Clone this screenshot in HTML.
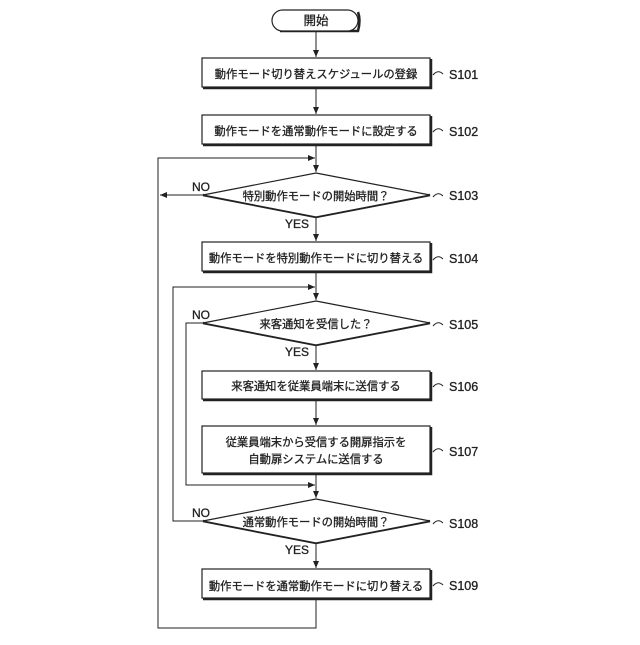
<!DOCTYPE html>
<html><head><meta charset="utf-8"><style>
body{margin:0;background:#fff}
svg text{font-family:"Liberation Sans","Noto Sans CJK JP",sans-serif;fill:#222}
</style></head><body>
<svg width="640" height="640" viewBox="0 0 640 640" xmlns="http://www.w3.org/2000/svg">
<defs><marker id="a" markerWidth="8" markerHeight="8" refX="7" refY="4" orient="auto" markerUnits="userSpaceOnUse"><path d="M0,1 L7,4 L0,7z" fill="#222"/></marker></defs>
<g fill="none" stroke="#222" stroke-width="1.2">
<g stroke-width="2.5">
<path d="M358,12 Q361,20 358,31 L280,31"/>
<path d="M431,59 V88 H203"/>
<path d="M431,116 V145 H203"/>
<path d="M431,243 V272 H203"/>
<path d="M431,372 V400 H203"/>
<path d="M431,427 V474 H203"/>
<path d="M431,570 V599 H203"/>
<path d="M430,195 L316,217 L203,195"/>
<path d="M430,323 L316,345 L203,323"/>
<path d="M430,521 L316,543 L203,521"/>
</g>
<rect x="272" y="10" width="86" height="21" rx="10.5" fill="#fff"/>
<rect x="202" y="58" width="228" height="29" fill="#fff"/>
<rect x="202" y="115" width="228" height="29" fill="#fff"/>
<rect x="202" y="242" width="228" height="29" fill="#fff"/>
<rect x="202" y="371" width="228" height="28" fill="#fff"/>
<rect x="202" y="426" width="228" height="47" fill="#fff"/>
<rect x="202" y="569" width="228" height="29" fill="#fff"/>
<path d="M316,173 L430,195 L316,217 L203,195Z" fill="#fff"/>
<path d="M316,301 L430,323 L316,345 L203,323Z" fill="#fff"/>
<path d="M316,499 L430,521 L316,543 L203,521Z" fill="#fff"/>
<g stroke-width="1">
<line x1="316" y1="31" x2="316" y2="57" marker-end="url(#a)"/>
<line x1="316" y1="88" x2="316" y2="114" marker-end="url(#a)"/>
<line x1="316" y1="145" x2="316" y2="172" marker-end="url(#a)"/>
<line x1="316" y1="217" x2="316" y2="241" marker-end="url(#a)"/>
<line x1="316" y1="272" x2="316" y2="300" marker-end="url(#a)"/>
<line x1="316" y1="345" x2="316" y2="370" marker-end="url(#a)"/>
<line x1="316" y1="400" x2="316" y2="425" marker-end="url(#a)"/>
<line x1="316" y1="474" x2="316" y2="498" marker-end="url(#a)"/>
<line x1="316" y1="543" x2="316" y2="568" marker-end="url(#a)"/>
<path d="M316,599 V628 H158 V158 H315" marker-end="url(#a)"/>
<line x1="203" y1="195" x2="160" y2="195" marker-end="url(#a)"/>
<path d="M203,521 H173 V287 H315" marker-end="url(#a)"/>
<path d="M203,323 H186 V485 H315" marker-end="url(#a)"/>
</g>
<g stroke-width="1">
<path d="M433,75 q5,-6 10,-1"/><path d="M433,132 q5,-6 10,-1"/><path d="M433,197 q5,-6 10,-1"/>
<path d="M433,260 q5,-6 10,-1"/><path d="M433,326 q5,-6 10,-1"/><path d="M433,387 q5,-6 10,-1"/>
<path d="M433,452 q5,-6 10,-1"/><path d="M433,524 q5,-6 10,-1"/><path d="M433,586 q5,-6 10,-1"/>
</g>
</g>
<g font-size="11.3" text-anchor="middle" stroke="#222" stroke-width="0.3">
<text x="316" y="25" font-size="12.5">開始</text>
<text x="316" y="78">動作モード切り替えスケジュールの登録</text>
<text x="316" y="135">動作モードを通常動作モードに設定する</text>
<text x="316" y="200">特別動作モードの開始時間？</text>
<text x="316" y="262">動作モードを特別動作モードに切り替える</text>
<text x="316" y="328">来客通知を受信した？</text>
<text x="316" y="390">来客通知を従業員端末に送信する</text>
<text x="316" y="446">従業員端末から受信する開扉指示を</text>
<text x="316" y="463">自動扉システムに送信する</text>
<text x="316" y="526">通常動作モードの開始時間？</text>
<text x="316" y="590">動作モードを通常動作モードに切り替える</text>
</g>
<g font-size="12.5" stroke="#222" stroke-width="0.3">
<text x="449" y="79">S101</text><text x="449" y="136">S102</text><text x="449" y="200">S103</text>
<text x="449" y="263">S104</text><text x="449" y="329">S105</text><text x="449" y="391">S106</text>
<text x="449" y="456">S107</text><text x="449" y="528">S108</text><text x="449" y="590">S109</text>
<text x="192" y="191" font-size="12">NO</text><text x="192" y="319" font-size="12">NO</text><text x="192" y="517" font-size="12">NO</text>
<text x="285" y="228" font-size="12">YES</text><text x="285" y="356" font-size="12">YES</text><text x="285" y="554" font-size="12">YES</text>
</g>
</svg>
</body></html>
